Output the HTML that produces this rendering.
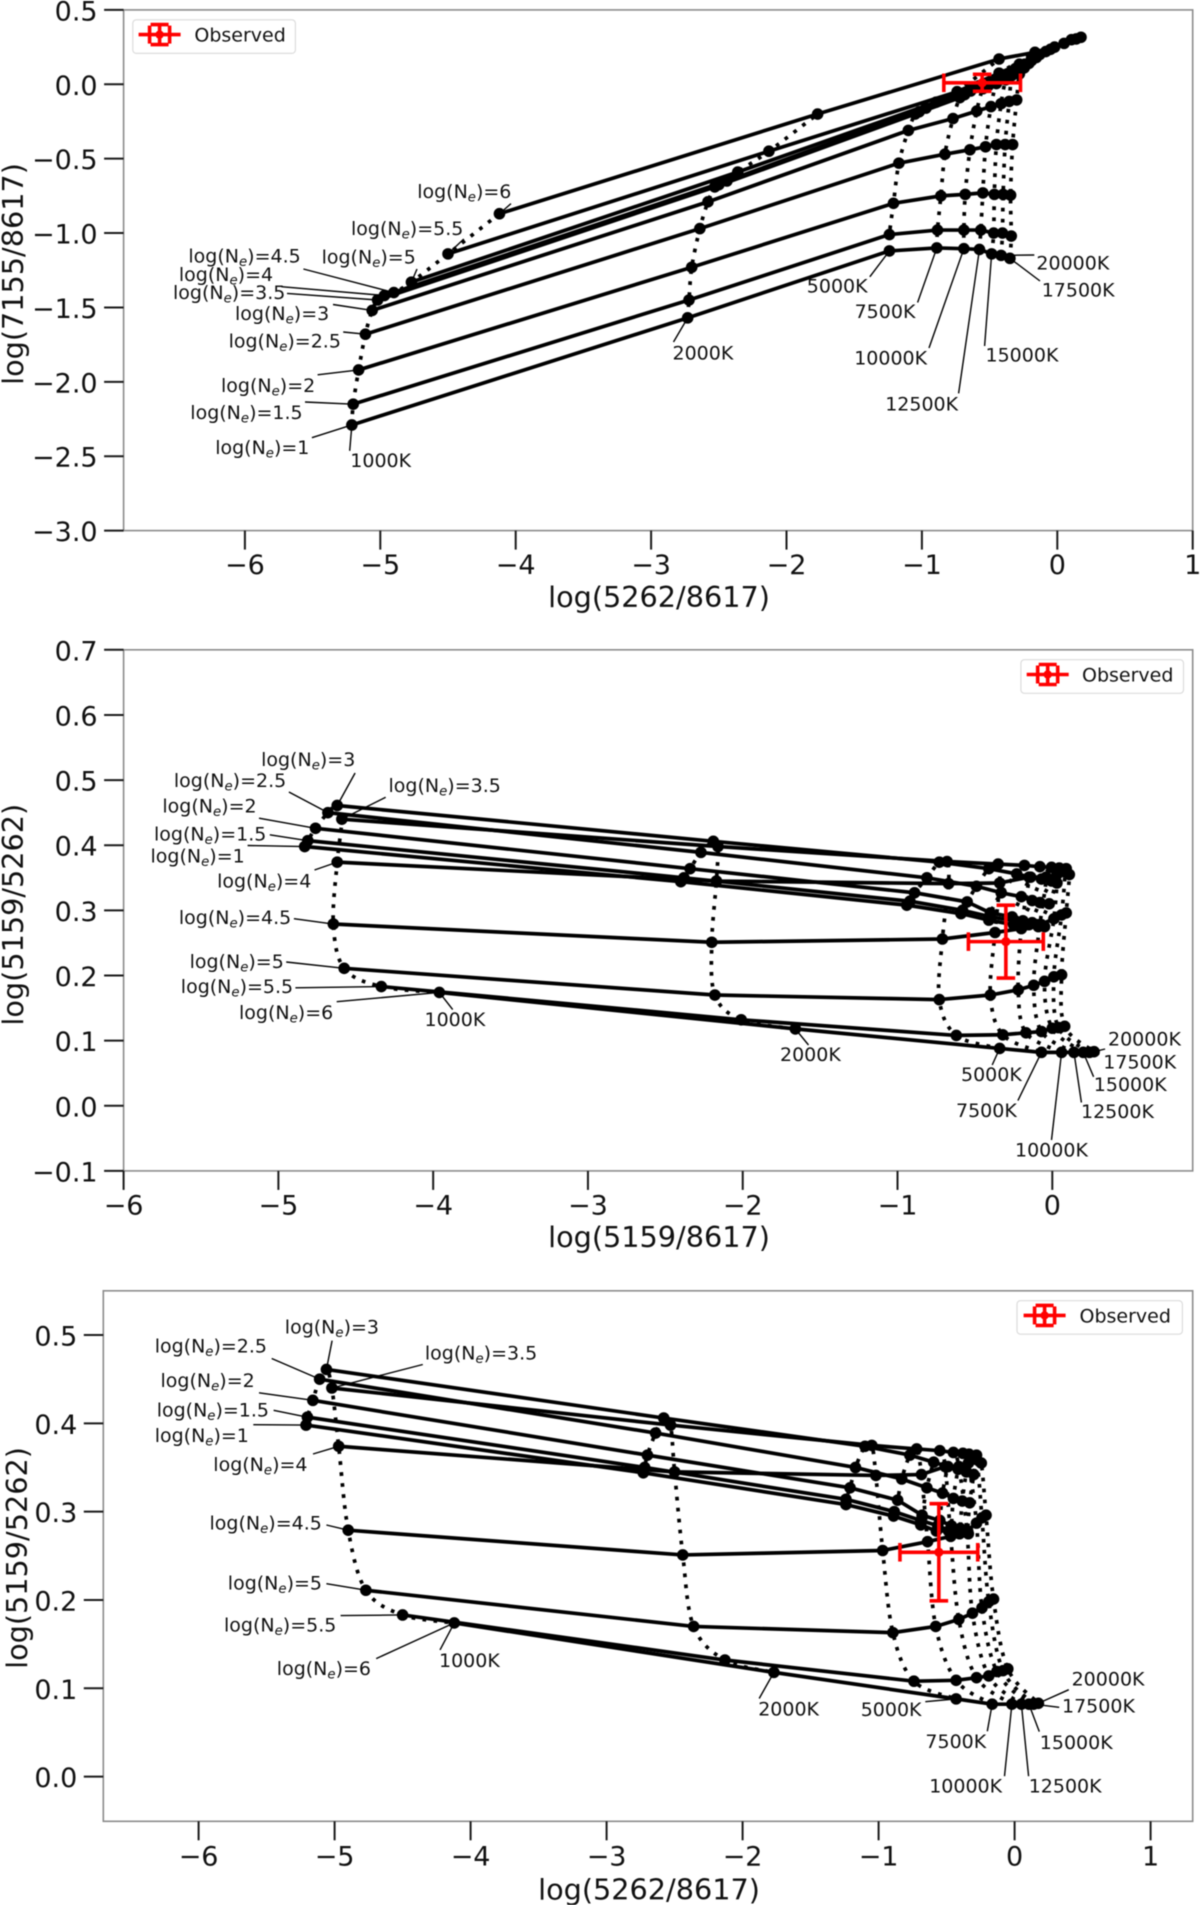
<!DOCTYPE html>
<html lang="en">
<head>
<meta charset="utf-8">
<title>Line ratio diagnostic grids</title>
<style>
html,body{margin:0;padding:0;background:#fff;}
body{width:1200px;height:1905px;overflow:hidden;}
svg{display:block;filter:blur(0.6px);}
text{font-family:"DejaVu Sans","Liberation Sans",sans-serif;fill:#111;}
</style>
</head>
<body>
<svg id="figure" xmlns="http://www.w3.org/2000/svg" width="1200" height="1905" viewBox="0 0 1200 1905"></svg>
<script>
// Grid categories
const densityLabels = ['1','1.5','2','2.5','3','3.5','4','4.5','5','5.5','6'];
const temperatureLabels = ['1000K','2000K','5000K','7500K','10000K','12500K','15000K','17500K','20000K'];

// log(5262/8617): one row per density, one column per temperature
const ratio5262_8617 = [
  [-5.21,-2.73,-1.24,-0.89,-0.69,-0.575,-0.485,-0.415,-0.35],
  [-5.20,-2.72,-1.24,-0.885,-0.69,-0.565,-0.47,-0.405,-0.34],
  [-5.16,-2.70,-1.21,-0.86,-0.68,-0.55,-0.465,-0.40,-0.345],
  [-5.11,-2.64,-1.17,-0.83,-0.645,-0.53,-0.45,-0.385,-0.33],
  [-5.06,-2.58,-1.10,-0.77,-0.595,-0.49,-0.415,-0.355,-0.30],
  [-5.02,-2.53,-1.05,-0.72,-0.55,-0.45,-0.38,-0.335,-0.28],
  [-4.97,-2.50,-1.02,-0.685,-0.51,-0.41,-0.34,-0.28,-0.245],
  [-4.90,-2.44,-0.97,-0.64,-0.47,-0.35,-0.28,-0.24,-0.21],
  [-4.77,-2.36,-0.895,-0.58,-0.41,-0.31,-0.24,-0.19,-0.155],
  [-4.50,-2.13,-0.74,-0.43,-0.28,-0.19,-0.13,-0.085,-0.05],
  [-4.12,-1.77,-0.43,-0.165,-0.02,0.05,0.105,0.14,0.175]
];

// log(7155/8617)
const ratio7155_8617 = [
  [-2.29,-1.57,-1.12,-1.10,-1.105,-1.11,-1.14,-1.15,-1.17],
  [-2.15,-1.45,-1.01,-0.98,-0.98,-0.98,-1.00,-1.00,-1.02],
  [-1.92,-1.23,-0.80,-0.75,-0.74,-0.73,-0.74,-0.74,-0.745],
  [-1.68,-0.97,-0.53,-0.47,-0.44,-0.42,-0.405,-0.405,-0.405],
  [-1.52,-0.79,-0.31,-0.23,-0.18,-0.15,-0.13,-0.115,-0.105],
  [-1.45,-0.69,-0.20,-0.09,-0.03,0.005,0.03,0.06,0.07],
  [-1.42,-0.675,-0.185,-0.07,-0.01,0.035,0.07,0.095,0.11],
  [-1.40,-0.65,-0.16,-0.045,0.015,0.07,0.105,0.12,0.14],
  [-1.33,-0.59,-0.12,-0.01,0.06,0.105,0.135,0.16,0.18],
  [-1.14,-0.45,-0.05,0.075,0.135,0.175,0.20,0.22,0.235],
  [-0.87,-0.20,0.17,0.215,0.25,0.275,0.30,0.305,0.316]
];

// log(5159/8617)
const ratio5159_8617 = [
  [-4.83,-2.40,-0.94,-0.59,-0.41,-0.25,-0.17,-0.10,-0.07],
  [-4.81,-2.38,-0.92,-0.58,-0.40,-0.24,-0.15,-0.09,-0.05],
  [-4.76,-2.34,-0.89,-0.55,-0.40,-0.26,-0.19,-0.13,-0.08],
  [-4.68,-2.27,-0.81,-0.49,-0.33,-0.20,-0.13,-0.08,-0.02],
  [-4.62,-2.19,-0.73,-0.41,-0.23,-0.14,-0.07,-0.005,0.03],
  [-4.59,-2.16,-0.68,-0.35,-0.18,-0.08,-0.005,0.045,0.09],
  [-4.62,-2.17,-0.67,-0.34,-0.15,-0.04,0.03,0.08,0.11],
  [-4.645,-2.20,-0.71,-0.37,-0.20,-0.08,0.01,0.06,0.09],
  [-4.575,-2.18,-0.73,-0.40,-0.22,-0.12,-0.05,0.01,0.06],
  [-4.335,-2.01,-0.62,-0.32,-0.17,-0.07,0.0,0.04,0.08],
  [-3.96,-1.66,-0.34,-0.07,0.06,0.14,0.20,0.24,0.27]
];

// log(5159/5262)
const ratio5159_5262 = [
  [0.398,0.344,0.308,0.295,0.285,0.278,0.278,0.278,0.278],
  [0.407,0.350,0.314,0.300,0.290,0.284,0.278,0.275,0.275],
  [0.426,0.364,0.327,0.313,0.296,0.290,0.284,0.281,0.278],
  [0.450,0.389,0.350,0.337,0.327,0.321,0.315,0.312,0.310],
  [0.461,0.406,0.374,0.364,0.356,0.351,0.348,0.345,0.342],
  [0.440,0.398,0.375,0.371,0.369,0.367,0.366,0.365,0.364],
  [0.374,0.345,0.341,0.342,0.351,0.351,0.355,0.359,0.355],
  [0.279,0.251,0.256,0.266,0.272,0.278,0.287,0.293,0.296],
  [0.211,0.170,0.163,0.170,0.178,0.185,0.191,0.198,0.201],
  [0.183,0.132,0.108,0.109,0.112,0.114,0.119,0.120,0.122],
  [0.174,0.118,0.088,0.082,0.082,0.082,0.082,0.082,0.083]
];

// Observed points: [x, xError, y, yError]
const observedTop = [-0.555, 0.283, 0.01, 0.057];
const observedMiddle = [-0.30, 0.242, 0.252, 0.056];
const observedBottom = [-0.557, 0.286, 0.254, 0.055];

// Tick labels
const xTicksTop = [-6,-5,-4,-3,-2,-1,0,1];
const yTicksTop = ['0.5','0.0','-0.5','-1.0','-1.5','-2.0','-2.5','-3.0'];
const xTicksMiddle = [-6,-5,-4,-3,-2,-1,0];
const yTicksMiddle = ['0.7','0.6','0.5','0.4','0.3','0.2','0.1','0.0','-0.1'];
const xTicksBottom = [-6,-5,-4,-3,-2,-1,0,1];
const yTicksBottom = ['0.5','0.4','0.3','0.2','0.1','0.0'];

const NS = 'http://www.w3.org/2000/svg';
const fig = document.getElementById('figure');

function make(tag, attrs, parent) {
  const el = document.createElementNS(NS, tag);
  for (const k in attrs) el.setAttribute(k, attrs[k]);
  (parent || fig).appendChild(el);
  return el;
}
function linear(d0, d1, r0, r1) {
  return v => r0 + (v - d0) * (r1 - r0) / (d1 - d0);
}
function minus(s) { return String(s).replace('-', '\u2212'); }

function smoothPath(pts) {
  let d = 'M' + pts[0][0].toFixed(2) + ' ' + pts[0][1].toFixed(2);
  for (let i = 0; i < pts.length - 1; i++) {
    const p0 = pts[Math.max(0, i - 1)], p1 = pts[i], p2 = pts[i + 1], p3 = pts[Math.min(pts.length - 1, i + 2)];
    const c1x = p1[0] + (p2[0] - p0[0]) / 6, c1y = p1[1] + (p2[1] - p0[1]) / 6;
    const c2x = p2[0] - (p3[0] - p1[0]) / 6, c2y = p2[1] - (p3[1] - p1[1]) / 6;
    d += 'C' + c1x.toFixed(2) + ' ' + c1y.toFixed(2) + ' ' + c2x.toFixed(2) + ' ' + c2y.toFixed(2) + ' ' + p2[0].toFixed(2) + ' ' + p2[1].toFixed(2);
  }
  return d;
}

function drawPanel(cfg) {
  const g = make('g', {});
  
  
  const X = cfg.xScale, Y = cfg.yScale, box = cfg.box;

  const frame = make('rect', {x: box.l, y: box.t, width: box.r - box.l, height: box.b - box.t, fill: '#fff', stroke: '#8c8c8c', 'stroke-width': 1.6}, g);
  
  

  cfg.xTicks.forEach(v => {
    const tick = make('line', {x1: X(v), x2: X(v), y1: box.b, y2: box.b + 19, stroke: '#1a1a1a', 'stroke-width': 2}, g);
    
    
    const label = make('text', {x: X(v), y: box.b + cfg.xLabelGap, 'text-anchor': 'middle', 'font-size': 27}, g);
    label.textContent = minus(v);
    
    
  });
  cfg.yTicks.forEach(s => {
    const v = parseFloat(s);
    const tick = make('line', {x1: box.l - 19.5, x2: box.l, y1: Y(v), y2: Y(v), stroke: '#1a1a1a', 'stroke-width': 2}, g);
    
    
    const label = make('text', {x: box.l - 26, y: Y(v) + 10.5, 'text-anchor': 'end', 'font-size': 27}, g);
    label.textContent = minus(s);
    
    
  });

  const xTitle = make('text', {x: cfg.xTitleX, y: cfg.xTitleY, 'text-anchor': 'middle', 'font-size': 28.7}, g);
  xTitle.textContent = cfg.xTitle;
  
  
  const yTitle = make('text', {transform: 'translate(' + cfg.yTitleX + ' ' + cfg.yTitleY + ') rotate(-90)', 'text-anchor': 'middle', 'font-size': 28.7}, g);
  yTitle.textContent = cfg.yTitle;
  
  

  // constant-temperature dotted curves
  temperatureLabels.forEach((t, ti) => {
    const pts = densityLabels.map((_, di) => [X(cfg.xs[di][ti]), Y(cfg.ys[di][ti])]);
    const curve = make('path', {d: smoothPath(pts), fill: 'none', stroke: '#000', 'stroke-width': 3.7, 'stroke-dasharray': '3.7 7.3'}, g);
    
    
  });
  // constant-density solid lines with markers
  densityLabels.forEach((n, di) => {
    const pts = temperatureLabels.map((_, ti) => X(cfg.xs[di][ti]).toFixed(2) + ',' + Y(cfg.ys[di][ti]).toFixed(2));
    const line = make('polyline', {points: pts.join(' '), fill: 'none', stroke: '#000', 'stroke-width': 3.7, 'stroke-linejoin': 'round'}, g);
    
    
    temperatureLabels.forEach((t, ti) => {
      const dot = make('circle', {cx: X(cfg.xs[di][ti]), cy: Y(cfg.ys[di][ti]), r: 5.8, fill: '#000'}, g);
      
      
    });
  });

  // leader annotations: text position and leader start are page layout, leader end follows the data
  cfg.densityNotes.forEach(a => {
    const di = a[0];
    const lead = make('line', {x1: a[3], y1: a[4], x2: X(cfg.xs[di][0]), y2: Y(cfg.ys[di][0]), stroke: '#000', 'stroke-width': 1.4}, g);
    
    
    const label = make('text', {x: a[1] - 1, y: a[2], 'font-size': 19}, g);
    
    
    label.appendChild(document.createTextNode('log(N'));
    const sub = make('tspan', {'font-style': 'italic', 'font-size': 13.3, dy: 3.5}, label);
    sub.textContent = 'e';
    const rest = make('tspan', {dy: -3.5}, label);
    rest.textContent = ')=' + densityLabels[di];
  });
  cfg.tempNotes.forEach(a => {
    const ti = a[0], target = a[5] === undefined ? ti : a[5];
    const lead = make('line', {x1: a[3], y1: a[4], x2: X(cfg.xs[cfg.noteDensity][target]), y2: Y(cfg.ys[cfg.noteDensity][target]), stroke: '#000', 'stroke-width': 1.4}, g);
    
    
    const label = make('text', {x: a[1] - 1, y: a[2], 'font-size': 19}, g);
    label.textContent = temperatureLabels[ti];
    
    
  });

  // observed error bar
  const ob = cfg.observed;
  const obG = make('g', {stroke: '#ff0000', 'stroke-width': 3.6, fill: 'none'}, g);
  
  
  const ox = X(ob[0]), oy = Y(ob[2]), xa = X(ob[0] - ob[1]), xb = X(ob[0] + ob[1]), ya = Y(ob[2] + ob[3]), yb = Y(ob[2] - ob[3]);
  make('line', {x1: xa, x2: xb, y1: oy, y2: oy}, obG);
  make('line', {x1: ox, x2: ox, y1: ya, y2: yb}, obG);
  make('line', {x1: xa, x2: xa, y1: oy - 9.3, y2: oy + 9.3}, obG);
  make('line', {x1: xb, x2: xb, y1: oy - 9.3, y2: oy + 9.3}, obG);
  make('line', {x1: ox - 9.3, x2: ox + 9.3, y1: ya, y2: ya}, obG);
  make('line', {x1: ox - 9.3, x2: ox + 9.3, y1: yb, y2: yb}, obG);
  make('circle', {cx: ox, cy: oy, r: 4.6, fill: '#ff0000', stroke: 'none'}, obG);

  // legend
  const L = cfg.legend;
  const lg = make('g', {}, g);
  
  
  make('rect', {x: L.x, y: L.y, width: L.w, height: L.h, rx: 3.5, fill: '#fff', 'fill-opacity': 0.85, stroke: '#dcdcdc', 'stroke-width': 1.2}, lg);
  const hx = L.hx, hy = L.y + L.h / 2 - 2;
  const hd = make('g', {stroke: '#ff0000', 'stroke-width': 3.6, fill: 'none'}, lg);
  
  
  make('line', {x1: hx - 21, x2: hx + 21, y1: hy, y2: hy}, hd);
  make('line', {x1: hx, x2: hx, y1: hy - 10, y2: hy + 10}, hd);
  make('line', {x1: hx - 10, x2: hx - 10, y1: hy - 9, y2: hy + 9}, hd);
  make('line', {x1: hx + 10, x2: hx + 10, y1: hy - 9, y2: hy + 9}, hd);
  make('line', {x1: hx - 9, x2: hx + 9, y1: hy - 10, y2: hy - 10}, hd);
  make('line', {x1: hx - 9, x2: hx + 9, y1: hy + 10, y2: hy + 10}, hd);
  make('circle', {cx: hx, cy: hy, r: 4.2, fill: '#ff0000', stroke: 'none'}, hd);
  const lt = make('text', {x: L.tx, y: hy + 6.8, 'font-size': 19}, lg);
  lt.textContent = 'Observed';
  
  
}

drawPanel({
  name: 'panel-7155-vs-5262',
  box: {l: 123.6, r: 1192.7, t: 9.9, b: 530.6},
  xScale: linear(-6, 1, 244.9, 1192.7),
  yScale: linear(0.5, -3, 9.9, 530.6),
  xs: ratio5262_8617, ys: ratio7155_8617,
  xTicks: xTicksTop, yTicks: yTicksTop,
  xLabelGap: 43.5,
  xTitle: 'log(5262/8617)', xTitleX: 659, xTitleY: 607,
  yTitle: 'log(7155/8617)', yTitleX: 23, yTitleY: 274,
  observed: observedTop,
  legend: {x: 132.8, y: 19.8, w: 162.6, h: 33.6, hx: 159.6, tx: 194.4},
  noteDensity: 0,
  densityNotes: [
    [10,418.2,198,511,203.6],[9,352,235,463.8,239],[8,322.6,263.5,417,269],
    [7,189.4,262.5,303.4,269],[6,179.9,281,281.3,286.7],[5,174,299,287,293.4],
    [4,236,320,333,304.5],[3,229.6,347.7,343.2,332],[2,222,392,317.6,374.8],
    [1,191.3,419,305,402],[0,216.2,454,311.9,437.7]
  ],
  tempNotes: [
    [0,351.3,467,349.7,450.8],[1,673.5,359.5,673.5,342],[2,807.8,292.5,869.8,276.8],
    [3,855.6,318,917.6,302.5],[4,855.2,364.5,929,348],[5,886.2,410.5,958.6,393.4],
    [6,986.5,361.5,984.6,346],[7,1042.7,296.3,1040,281,8],[8,1037.4,269.5,1034.3,255,7]
  ]
});

drawPanel({
  name: 'panel-5159-5262-vs-5159-8617',
  box: {l: 123.6, r: 1192.7, t: 649.8, b: 1170.9},
  xScale: linear(-6, 0, 123.6, 1052.3),
  yScale: linear(0.7, -0.1, 649.8, 1170.9),
  xs: ratio5159_8617, ys: ratio5159_5262,
  xTicks: xTicksMiddle, yTicks: yTicksMiddle,
  xLabelGap: 43.5,
  xTitle: 'log(5159/8617)', xTitleX: 659, xTitleY: 1247,
  yTitle: 'log(5159/5262)', yTitleX: 23, yTitleY: 914.7,
  observed: observedMiddle,
  legend: {x: 1020.9, y: 659.7, w: 162.6, h: 33.6, hx: 1047.7, tx: 1082},
  noteDensity: 10,
  densityNotes: [
    [4,262.1,766,355.1,773],[3,174.9,787,288.9,792],[5,389.5,792,385.7,797.3],
    [2,163.4,812.5,259,818.2],[1,155,840.5,269.8,834.8],[0,151.5,862.7,247.6,845.5],
    [6,218.1,887.5,314.5,870],[7,179.9,924,293.9,918.7],[8,190.6,968,286.2,962],
    [9,181.8,993,295.4,987.8],[10,240,1019,336.7,1001.7]
  ],
  tempNotes: [
    [0,425.5,1026,452.7,1009.6],[1,781,1061,808.5,1045],[2,962,1081,992.2,1065],
    [3,957,1117,1017.9,1100.6],[4,1016,1156.5,1051.5,1140],[5,1082,1118,1081.4,1102.5],
    [6,1094.8,1091,1093.6,1076.8],[7,1104.3,1068.7,1099.4,1054],[8,1109,1045.7,1105.1,1049]
  ]
});

drawPanel({
  name: 'panel-5159-5262-vs-5262-8617',
  box: {l: 103.3, r: 1192.7, t: 1290.8, b: 1821.3},
  xScale: linear(-6, 1, 198.6, 1150.6),
  yScale: linear(0.5, 0, 1335, 1776.6),
  xs: ratio5262_8617, ys: ratio5159_5262,
  xTicks: xTicksBottom, yTicks: yTicksBottom,
  xLabelGap: 44,
  xTitle: 'log(5262/8617)', xTitleX: 649, xTitleY: 1899.5,
  yTitle: 'log(5159/5262)', yTitleX: 27, yTitleY: 1558,
  observed: observedBottom,
  legend: {x: 1017, y: 1300.7, w: 165.4, h: 33.5, hx: 1044.6, tx: 1079.5},
  noteDensity: 10,
  densityNotes: [
    [4,285.8,1333.5,332.1,1340.6],[3,155.7,1352.3,271.7,1358.5],[5,425.9,1359.5,422.8,1364.5],
    [2,161.5,1387,259,1392.8],[1,157.7,1416.5,273.6,1410.3],[0,155.7,1442,253.3,1424.7],
    [6,214.3,1471,313,1454],[7,210.5,1529.5,326.4,1525],[8,228.8,1589.5,326.4,1583.7],
    [9,225,1631.3,340.6,1615.6],[10,277.8,1675,376.2,1658.6]
  ],
  tempNotes: [
    [0,440,1667,440,1649.9],[1,759.2,1715.5,759.2,1698.5],[2,861.7,1716,925.3,1701.7],
    [3,926.4,1748,987.3,1731.2],[4,930.2,1792.7,1004.5,1776.2],[5,1029.7,1792.7,1028.6,1776.2],
    [6,1040.8,1748.8,1039.3,1731.6],[7,1063,1712.5,1059.2,1707.3],[8,1072.6,1685.5,1068.8,1689.7]
  ]
});
</script>
</body>
</html>
